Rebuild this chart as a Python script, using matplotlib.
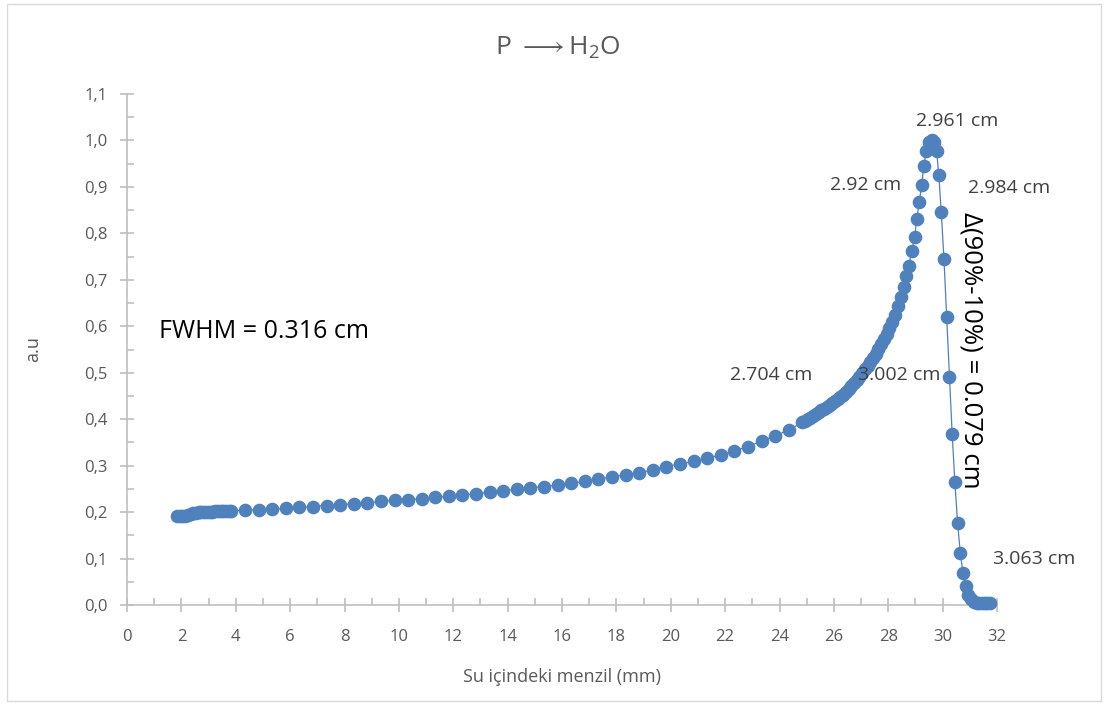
import matplotlib
matplotlib.use("Agg")
import matplotlib.pyplot as plt
from matplotlib.ticker import MultipleLocator, FuncFormatter
from matplotlib.patches import Rectangle

plt.rcParams['font.family'] = ['Open Sans', 'DejaVu Sans']
plt.rcParams['mathtext.fontset'] = 'custom'
plt.rcParams['mathtext.rm'] = 'Open Sans'
plt.rcParams['mathtext.it'] = 'Open Sans'
plt.rcParams['mathtext.fallback'] = 'stixsans'

# Depth-dose profile of protons in water (range in mm, relative dose)
range_mm = [
    1.84, 1.94, 2.04, 2.14, 2.24, 2.34, 2.44, 2.54, 2.64, 2.74, 2.84, 2.94, 3.04,
    3.14, 3.24, 3.34, 3.44, 3.54, 3.64, 3.74, 3.84,
    4.34, 4.84, 5.34, 5.84, 6.34, 6.84, 7.34, 7.84, 8.34, 8.84, 9.34, 9.84,
    10.34, 10.84, 11.34, 11.84, 12.34, 12.84, 13.34, 13.84, 14.34, 14.84,
    15.34, 15.84, 16.34, 16.84, 17.34, 17.84, 18.34, 18.84, 19.34, 19.84,
    20.34, 20.84, 21.34, 21.84, 22.34, 22.84, 23.34, 23.84, 24.34,
    24.84, 24.94, 25.04, 25.14, 25.24, 25.34, 25.44, 25.54, 25.64, 25.74,
    25.84, 25.94, 26.04, 26.14, 26.24, 26.34, 26.44, 26.54, 26.64, 26.74,
    26.84, 26.94, 27.04, 27.14, 27.24, 27.34, 27.44, 27.54, 27.64, 27.74,
    27.84, 27.94, 28.04, 28.14, 28.24,
    28.37, 28.46, 28.57, 28.66, 28.76, 28.86, 28.97, 29.05, 29.14, 29.23,
    29.31, 29.40, 29.50, 29.61, 29.70, 29.78, 29.86, 29.95, 30.05, 30.15,
    30.25, 30.35, 30.45, 30.55, 30.65, 30.75, 30.85, 30.95, 31.05, 31.15,
    31.25, 31.35, 31.45, 31.55, 31.65, 31.75,
]
dose = [
    0.191, 0.191, 0.191, 0.192, 0.194, 0.196, 0.198, 0.199, 0.200, 0.200, 0.201,
    0.201, 0.201, 0.201, 0.202, 0.202, 0.202, 0.202, 0.203, 0.203, 0.203,
    0.204, 0.205, 0.206, 0.208, 0.210, 0.212, 0.214, 0.216, 0.218, 0.220,
    0.223, 0.225, 0.227, 0.229, 0.232, 0.234, 0.237, 0.239, 0.243, 0.246,
    0.249, 0.252, 0.255, 0.258, 0.262, 0.266, 0.271, 0.276, 0.280, 0.285,
    0.291, 0.298, 0.304, 0.309, 0.316, 0.323, 0.332, 0.341, 0.353, 0.364, 0.377,
    0.393, 0.396, 0.400, 0.403, 0.407, 0.411, 0.415, 0.419, 0.422, 0.426,
    0.430, 0.435, 0.439, 0.443, 0.448, 0.453, 0.459, 0.465, 0.471, 0.477,
    0.484, 0.491, 0.499, 0.507, 0.515, 0.523, 0.532, 0.541, 0.551, 0.561,
    0.572, 0.584, 0.597, 0.610, 0.624,
    0.644, 0.664, 0.685, 0.708, 0.730, 0.763, 0.792, 0.831, 0.867, 0.905,
    0.946, 0.978, 0.996, 1.000, 0.997, 0.977, 0.926, 0.846, 0.744, 0.619,
    0.491, 0.369, 0.265, 0.177, 0.112, 0.068, 0.041, 0.022, 0.012, 0.007,
    0.005, 0.004, 0.004, 0.004, 0.004, 0.004,
]

# Annotation labels: (text, x, y)
point_labels = [
    ("2.961 cm", 30.52, 1.042),
    ("2.92 cm", 27.18, 0.904),
    ("2.984 cm", 32.44, 0.898),
    ("2.704 cm", 23.69, 0.495),
    ("3.002 cm", 28.39, 0.495),
    ("3.063 cm", 33.38, 0.099),
]
fwhm_text = "FWHM = 0.316 cm"
falloff_text = "Δ(90%-10%) = 0.079 cm"
title_text = "P $\\longrightarrow$H$_2$O"

blue = '#4F81BD'
axis_gray = '#BFBFBF'
text_gray = '#595959'

fig = plt.figure(figsize=(11.05, 7.04), dpi=100)
ax = fig.add_axes([127 / 1105, 1 - 605 / 704, (997 - 127) / 1105, (605 - 94) / 704])

ax.plot(range_mm, dose, color=blue, lw=0.9, marker='o', markersize=8.8,
        markerfacecolor=blue, markeredgecolor=blue, clip_on=False, zorder=3)

ax.set_xlim(0, 32)
ax.set_ylim(0, 1.1)
ax.xaxis.set_major_locator(MultipleLocator(2))
ax.xaxis.set_minor_locator(MultipleLocator(1))
ax.yaxis.set_major_locator(MultipleLocator(0.1))
ax.yaxis.set_minor_locator(MultipleLocator(0.05))
ax.yaxis.set_major_formatter(FuncFormatter(lambda v, p: f"{v:.1f}".replace('.', ',')))

for side in ('top', 'right'):
    ax.spines[side].set_visible(False)
for side in ('left', 'bottom'):
    ax.spines[side].set_color(axis_gray)
    ax.spines[side].set_linewidth(1.2)

ax.tick_params(which='major', direction='inout', length=10, width=1.2,
               color=axis_gray, labelcolor=text_gray, labelsize=12)
ax.tick_params(which='minor', direction='in', length=5, width=1.2, color=axis_gray)
ax.tick_params(axis='x', which='major', pad=12)
ax.tick_params(axis='y', which='major', pad=9)

ax.set_xlabel("Su içindeki menzil (mm)", color=text_gray, fontsize=13, labelpad=17)
ax.set_ylabel("a.u", color=text_gray, fontsize=13, labelpad=30)

fig.text(0.505, 1 - 48 / 704, title_text, ha='center', va='center',
         color=text_gray, fontsize=19)

for txt, x, y in point_labels:
    ax.text(x, y, txt, ha='center', va='center', color='#404040', fontsize=14,
            clip_on=False)

ax.text(1.18, 0.588, fwhm_text, ha='left', va='center', color='black', fontsize=18)
ax.text(31.05, 0.549, falloff_text, ha='center', va='center', color='black',
        fontsize=18.5, rotation=-90, clip_on=False)

fig.patches.append(Rectangle((7 / 1105, 3 / 704), 1094 / 1105, 697 / 704,
                             transform=fig.transFigure, fill=False,
                             edgecolor='#D9D9D9', linewidth=1.0))

fig.savefig("out.png", dpi=100)
